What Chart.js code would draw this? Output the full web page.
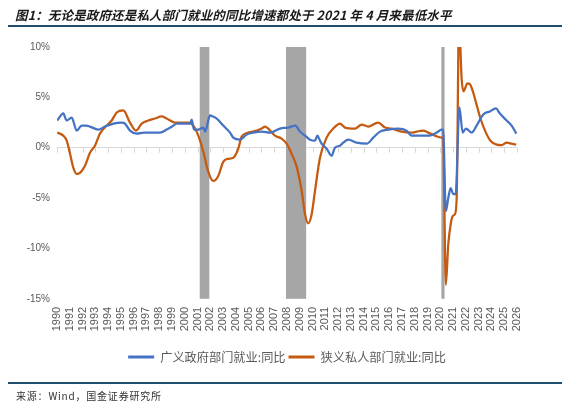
<!DOCTYPE html>
<html>
<head>
<meta charset="utf-8">
<script src="https://cdn.jsdelivr.net/npm/chart.js@4/dist/chart.umd.min.js"></script>
<style>
  html, body { margin: 0; padding: 0; background: #fff; }
  body { width: 570px; height: 408px; position: relative; overflow: hidden; }
  #c { position: absolute; left: 0; top: 0; }
  #title { position: absolute; left: 15px; top: 5px; font-family: "Noto Sans CJK SC", sans-serif; font-weight: bold; font-style: italic; font-size: 12.5px; color: #1a1a1a; white-space: nowrap; letter-spacing: 0.15px; }
  #tline { position: absolute; left: 8px; top: 25px; width: 554px; height: 2px; background: #1f4e6e; }
  #sline { position: absolute; left: 8px; top: 382px; width: 554px; height: 1.5px; background: #1f4e6e; }
  #source { position: absolute; left: 16px; top: 388px; font-family: "Noto Sans CJK SC", sans-serif; font-size: 10px; color: #333; white-space: nowrap; letter-spacing: 0.8px; }
</style>
</head>
<body>
<canvas id="c" width="570" height="408"></canvas>
<div id="title">图1：无论是政府还是私人部门就业的同比增速都处于 2021 年 4 月来最低水平</div>
<div id="tline"></div>
<div id="sline"></div>
<div id="source">来源：Wind，国金证券研究所</div>
<script>
// ---- data ----
const seriesNames = ["广义政府部门就业:同比", "狭义私人部门就业:同比"];

const govDates = [1990.02,1990.49,1990.76,1991.15,1991.54,1991.93,1992.3,1992.58,1993.23,1993.76,1994.41,1995.06,1995.32,1995.71,1996.24,1996.8,1997.28,1998.06,1998.58,1999.0,1999.37,2000.0,2000.41,2000.54,2000.72,2001.06,2001.45,2001.6,2001.97,2002.2,2002.5,2003.01,2003.54,2003.8,2004.32,2004.84,2005.36,2006.02,2006.67,2007.45,2008.1,2008.66,2009.01,2009.41,2009.8,2010.19,2010.38,2010.55,2010.71,2011.1,2011.49,2011.75,2012.14,2012.4,2012.79,2013.45,2014.23,2014.75,2015.27,2015.92,2016.71,2017.36,2017.75,2018.4,2019.19,2019.71,2020.1,2020.22,2020.43,2020.62,2020.81,2021.01,2021.2,2021.49,2021.75,2022.0,2022.45,2022.84,2023.36,2023.88,2024.35,2024.66,2025.19,2025.58,2025.95];
const govValues = [2.7,3.4,2.7,3.0,1.7,2.2,2.2,2.1,1.8,2.1,2.4,2.5,2.4,1.7,1.4,1.5,1.5,1.5,1.8,2.1,2.4,2.4,2.4,2.8,1.8,1.8,2.0,1.6,3.2,3.1,2.9,2.2,1.5,1.0,0.8,1.3,1.5,1.6,1.5,1.9,2.0,2.2,1.6,1.2,0.8,0.7,1.2,0.8,0.4,-0.1,-0.8,0.0,0.2,0.5,0.8,0.5,0.4,1.0,1.6,1.8,1.9,1.7,1.2,1.2,1.2,1.5,1.8,1.8,-6.3,-5.0,-4.0,-4.6,-4.6,4.0,1.5,1.9,1.5,2.2,3.3,3.6,3.9,3.4,2.7,2.2,1.4];

const privDates = [1990.02,1990.49,1990.76,1991.02,1991.28,1991.54,1991.8,1992.19,1992.58,1992.97,1993.36,1993.89,1994.28,1994.67,1995.19,1995.71,1996.18,1996.63,1997.14,1997.67,1998.19,1998.58,1999.23,1999.88,2000.27,2000.67,2001.06,2001.45,2001.84,2002.23,2002.62,2003.01,2003.4,2003.8,2004.19,2004.45,2004.97,2005.63,2006.02,2006.28,2006.53,2007.06,2007.58,2007.97,2008.36,2008.76,2009.15,2009.41,2009.66,2009.93,2010.19,2010.58,2011.1,2011.62,2012.14,2012.54,2013.32,2013.84,2014.36,2015.14,2015.67,2016.19,2016.97,2017.75,2018.15,2018.66,2019.05,2019.58,2020.1,2020.22,2020.43,2020.62,2020.81,2020.96,2021.14,2021.28,2021.46,2021.67,2021.81,2022.12,2022.32,2022.57,2022.83,2023.14,2023.53,2023.92,2024.41,2024.8,2025.19,2025.58,2025.94];
const privValues = [1.5,1.2,0.7,-0.6,-2.0,-2.6,-2.5,-1.8,-0.5,0.2,1.4,2.2,2.7,3.5,3.7,2.5,1.7,2.4,2.7,2.9,3.1,2.9,2.5,2.5,2.5,2.2,1.2,-0.4,-2.4,-3.3,-2.8,-1.4,-1.1,-1.0,-0.1,1.1,1.5,1.7,1.9,2.1,1.9,1.2,0.9,0.4,-0.6,-1.9,-4.3,-6.6,-7.5,-6.6,-4.3,-1.0,1.0,1.9,2.4,2.0,1.9,2.3,2.1,2.5,2.0,1.9,1.6,1.5,1.6,1.7,1.5,1.2,1.0,1.0,-13.6,-9.6,-7.6,-6.8,-6.6,-5.0,12.5,6.8,5.6,6.4,6.3,5.5,4.3,2.9,1.6,0.7,0.3,0.25,0.5,0.4,0.3];

const recessionStarts = [2001.17, 2007.92, 2020.08];
const recessionEnds   = [2001.92, 2009.50, 2020.33];

const xTickYears = [1990,1991,1992,1993,1994,1995,1996,1997,1998,1999,2000,2001,2002,2003,2004,2005,2006,2007,2008,2009,2010,2011,2012,2013,2014,2015,2016,2017,2018,2019,2020,2021,2022,2023,2024,2025,2026];
const yTickValues = [-15, -10, -5, 0, 5, 10];

const toPoints = (xs, ys) => xs.map((x, i) => ({ x: x, y: ys[i] }));

const bgPlugin = {
  id: 'recessionBars',
  beforeDatasetsDraw(chart) {
    const { ctx, chartArea, scales } = chart;
    const x = scales.x, y = scales.y;
    ctx.save();
    const y0 = y.getPixelForValue(0);
    ctx.strokeStyle = '#d9d9d9';
    ctx.lineWidth = 1;
    xTickYears.forEach(v => {
      const px = Math.round(x.getPixelForValue(v)) + 0.5;
      ctx.beginPath();
      ctx.moveTo(px, y0);
      ctx.lineTo(px, y0 + 5);
      ctx.stroke();
    });
    ctx.fillStyle = '#a6a6a6';
    recessionStarts.forEach((s, i) => {
      const x0 = x.getPixelForValue(s);
      const x1 = x.getPixelForValue(recessionEnds[i]);
      ctx.fillRect(x0, chartArea.top, x1 - x0, chartArea.bottom - chartArea.top);
    });
    ctx.restore();
  }
};

new Chart(document.getElementById('c'), {
  type: 'line',
  data: {
    datasets: [
      { label: seriesNames[0], data: toPoints(govDates, govValues), borderColor: '#4472C4', backgroundColor: '#4472C4', borderWidth: 2.25, pointRadius: 0, cubicInterpolationMode: 'monotone' },
      { label: seriesNames[1], data: toPoints(privDates, privValues), borderColor: '#C55A11', backgroundColor: '#C55A11', borderWidth: 2.25, pointRadius: 0, cubicInterpolationMode: 'monotone' }
    ]
  },
  options: {
    responsive: false,
    animation: false,
    layout: { padding: { top: 47, right: 53, bottom: 35, left: 0 } },
    scales: {
      x: {
        type: 'linear', min: 1990, max: 2026,
        afterBuildTicks: s => { s.ticks = xTickYears.map(v => ({ value: v })); },
        afterFit: s => { s.height = 49; },
        grid: { display: false, drawTicks: false },
        border: { display: false },
        ticks: { autoSkip: false, minRotation: 90, maxRotation: 90, padding: 8, color: '#595959', font: { family: 'Liberation Sans', size: 11 }, callback: v => String(v) }
      },
      y: {
        min: -15, max: 10,
        afterBuildTicks: s => { s.ticks = yTickValues.map(v => ({ value: v })); },
        afterFit: s => { s.width = 57; },
        grid: { drawTicks: false, color: c => (c.tick && c.tick.value === 0) ? '#d9d9d9' : 'rgba(0,0,0,0)', lineWidth: 1 },
        border: { display: false },
        ticks: { padding: 7, color: '#595959', font: { family: 'Liberation Sans', size: 10 }, callback: v => v + '%' }
      }
    },
    plugins: {
      tooltip: { enabled: false },
      legend: {
        position: 'bottom', fullSize: false,
        labels: {
          boxWidth: 26, boxHeight: 3, padding: 3, color: '#595959',
          font: { family: 'Noto Sans CJK SC', size: 12.2 },
          generateLabels: chart => Chart.defaults.plugins.legend.labels.generateLabels(chart).map(l => Object.assign(l, { lineWidth: 0, fillStyle: l.strokeStyle }))
        }
      }
    }
  },
  plugins: [bgPlugin]
});
</script>
</body>
</html>
